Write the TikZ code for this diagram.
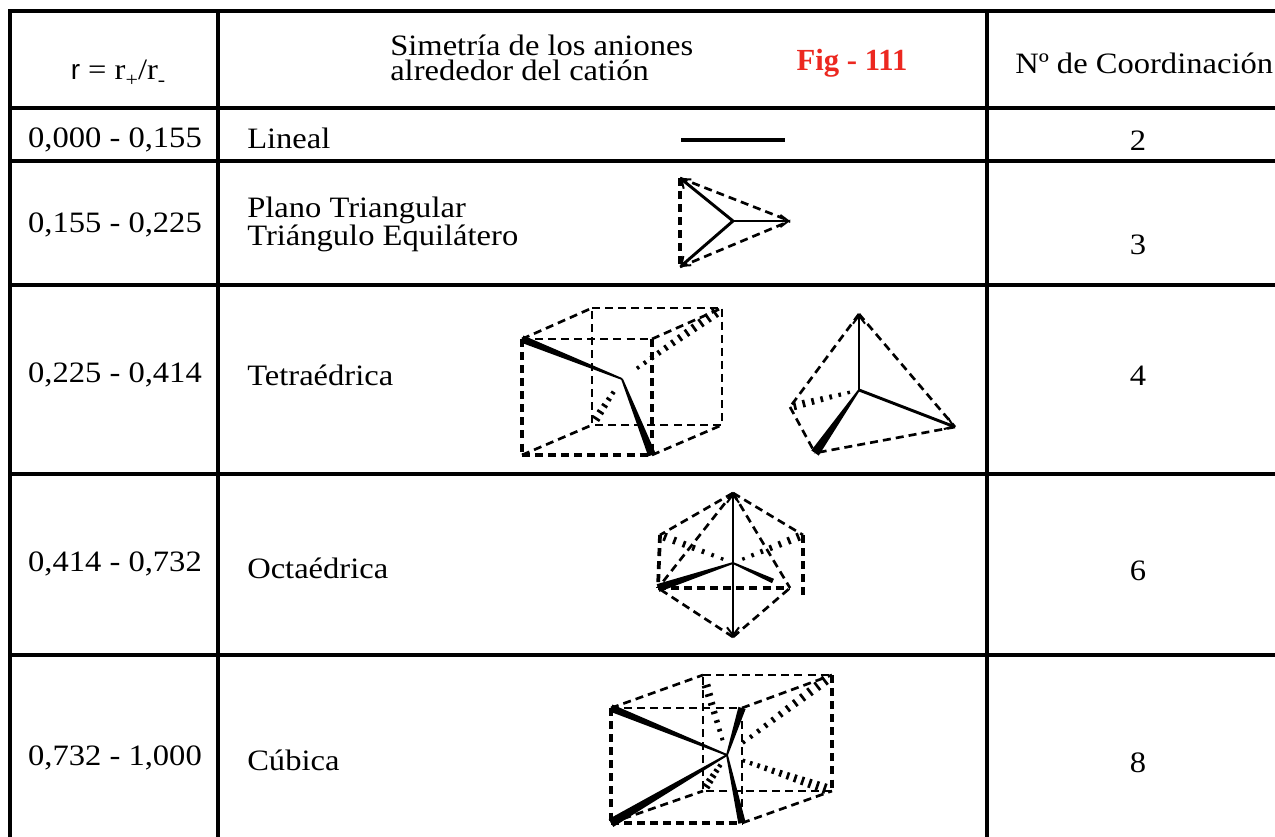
\documentclass[tikz,border=0pt]{standalone}
\usepackage{fontspec}
\setmainfont{Liberation Serif}[FakeStretch=1.1]
\newfontfamily\figfont{Liberation Serif Bold}
\newfontfamily\rsans{Liberation Sans}
\usetikzlibrary{calc,arrows.meta}
\definecolor{figred}{RGB}{236,40,32}
\newcommand\wedgebond[3]{\fill ($(#1)!0.7pt!90:(#2)$) -- ($(#2)!#3!-90:(#1)$) -- ($(#2)!#3!90:(#1)$) -- ($(#1)!0.7pt!-90:(#2)$) -- cycle;}
\newcommand\hashbond[4]{%
  \foreach \t in {#3}{%
    \pgfmathsetmacro\hw{0.9+#4*\t}%
    \draw[line width=2pt] ($(#1)!\t!(#2)!\hw pt!90:(#2)$) -- ($(#1)!\t!(#2)!\hw pt!-90:(#2)$);
  }}
\newcommand\mysub[1]{\raisebox{-0.45ex}{\fontsize{15}{15}\selectfont #1}}
\tikzset{
  grid/.style={line width=2.3pt,line cap=rect},
  txt/.style={inner sep=0pt,anchor=base,font=\fontsize{22.2}{24}\selectfont},
  txtw/.style={txt,anchor=base west},
  bond/.style={line width=2.2pt,-{Straight Barb[length=6pt,width=9pt,line width=1.5pt]}},
  edgeline/.style={line width=2pt,dash pattern=on 6pt off 3.8pt},
  edgethick/.style={line width=2.8pt,dash pattern=on 6pt off 3.8pt},
}
\begin{document}
\begin{tikzpicture}[x=0.75pt,y=-0.75pt]
\useasboundingbox[fill=white] (0,0) rectangle (1275,837);
% table grid
\draw[grid] (10,11) -- (1280,11);
\draw[grid] (10,108) -- (1280,108);
\draw[grid] (10,161) -- (1280,161);
\draw[grid] (10,285) -- (1280,285);
\draw[grid] (10,474) -- (1280,474);
\draw[grid] (10,655) -- (1280,655);
\draw[grid] (10,11) -- (10,845);
\draw[grid] (218,11) -- (218,845);
\draw[grid] (987,11) -- (987,845);
% header
\node[txt] (hr) at (118,80) {{\rsans\fontsize{21}{24}\selectfont r} = r\mysub{+}/r\mysub{-}};
\node[txtw] (hs1) at (390,56) {Simetría de los aniones};
\node[txtw] (hs2) at (390,81) {alrededor del catión};
\node[txt,text=figred,font=\fontsize{23}{26}\figfont] (hfig) at (852,71) {Fig - 111};
\node[txtw] (hn) at (1015,74) {Nº de Coordinación};
% column 1
\node[txt] (r1) at (115,148) {0,000 - 0,155};
\node[txt] (r2) at (115,233) {0,155 - 0,225};
\node[txt] (r3) at (115,383) {0,225 - 0,414};
\node[txt] (r4) at (115,572) {0,414 - 0,732};
\node[txt] (r5) at (115,765) {0,732 - 1,000};
% column 2
\node[txtw] (s1) at (247,149) {Lineal};
\node[txtw] (s2a) at (247,218) {Plano Triangular};
\node[txtw] (s2b) at (247,246) {Triángulo Equilátero};
\node[txtw] (s3) at (247,386) {Tetraédrica};
\node[txtw] (s4) at (247,579) {Octaédrica};
\node[txtw] (s5) at (247,770) {Cúbica};
% column 3
\node[txt] (n1) at (1138,151) {2};
\node[txt] (n2) at (1138,255) {3};
\node[txt] (n3) at (1138,386) {4};
\node[txt] (n4) at (1138,581) {6};
\node[txt] (n5) at (1138,772) {8};
% ---------- linear
\coordinate (la) at (681,140);
\coordinate (lb) at (785,140);
\draw[line width=2.4pt] (la) -- (lb);
% ---------- triangle
\coordinate (tA) at (680,178);
\coordinate (tB) at (680,267);
\coordinate (tR) at (790,221);
\coordinate (tC) at (733,221);
\draw[edgethick] (tA) -- (tB);
\draw[edgeline] (tA) -- (tR);
\draw[edgeline] (tB) -- (tR);
\draw[bond] (tC) -- (tA);
\draw[bond] (tC) -- (tB);
\draw[bond] (tC) -- (tR);
% ---------- tetrahedral (cube)
\coordinate (F1) at (522,339);
\coordinate (F2) at (652,339);
\coordinate (F3) at (652,455);
\coordinate (F4) at (522,455);
\coordinate (K1) at (592,308);
\coordinate (K2) at (722,308);
\coordinate (K3) at (722,425);
\coordinate (K4) at (592,425);
\coordinate (tc) at (622,379);
\draw[edgeline] (K1) -- (K2) -- (K3) -- (K4) -- cycle;
\draw[edgeline] (F1) -- (K1);
\draw[edgeline] (F2) -- (K2);
\draw[edgeline] (F3) -- (K3);
\draw[edgeline] (F4) -- (K4);
\draw[edgeline] (F1) -- (F2);
\draw[edgethick] (F2) -- (F3);
\draw[edgethick] (F1) -- (F4);
\draw[edgethick] (F4) -- (F3);
\wedgebond{tc}{F1}{2.8pt}
\wedgebond{tc}{F3}{3pt}
\hashbond{tc}{K2}{0.16,0.23,...,0.96}{3.2}
\hashbond{tc}{K4}{0.3,0.44,...,0.96}{2.6}
% ---------- tetrahedron
\coordinate (eA) at (859,314);
\coordinate (eO) at (859,390);
\coordinate (eR) at (955,427);
\coordinate (eL) at (815,453);
\coordinate (eK) at (790,407);
\draw[edgeline] (eA) -- (eK);
\draw[edgeline] (eA) -- (eR);
\draw[edgeline] (eR) -- (eL);
\draw[edgeline] (eK) -- (eL);
\draw[bond] (eO) -- (eA);
\draw[bond] (eO) -- (eR);
\wedgebond{eO}{eL}{3.4pt}
\hashbond{eO}{eK}{0.15,0.28,...,0.96}{2.4}
% ---------- octahedron
\coordinate (oT) at (733,493);
\coordinate (oB) at (733,637);
\coordinate (oC) at (733,563);
\coordinate (oFL) at (658,588);
\coordinate (oFR) at (790,588);
\coordinate (oBL) at (660,535);
\coordinate (oBR) at (803,535);
\coordinate (oX) at (803,598);
\coordinate (oW) at (773,581);
\draw[edgeline] (oT) -- (oBL);
\draw[edgeline] (oT) -- (oBR);
\draw[edgeline] (oT) -- (oFL);
\draw[edgeline] (oT) -- (oFR);
\draw[edgeline] (oB) -- (oFL);
\draw[edgeline] (oB) -- (oFR);
\draw[edgethick] (oFL) -- (oFR);
\draw[edgethick] (oBL) -- (oFL);
\draw[edgethick] (oBR) -- (oX);
\draw[bond] (oC) -- (oT);
\draw[bond] (oC) -- (oB);
\wedgebond{oC}{oFL}{3pt}
\wedgebond{oC}{oW}{1.8pt}
\hashbond{oC}{oBL}{0.15,0.28,...,0.96}{2.4}
\hashbond{oC}{oBR}{0.15,0.28,...,0.96}{2.4}
% ---------- cubic
\coordinate (c1) at (611,708);
\coordinate (c2) at (742,708);
\coordinate (c3) at (742,823);
\coordinate (c4) at (611,823);
\coordinate (d1) at (703,675);
\coordinate (d2) at (832,675);
\coordinate (d3) at (832,791);
\coordinate (d4) at (703,791);
\coordinate (cc) at (727,755);
\draw[edgeline] (d1) -- (d2);
\draw[edgethick] (d2) -- (d3);
\draw[edgeline] (d3) -- (d4) -- (d1);
\draw[edgeline] (c1) -- (d1);
\draw[edgeline] (c2) -- (d2);
\draw[edgeline] (c3) -- (d3);
\draw[edgeline] (c4) -- (d4);
\draw[edgeline] (c1) -- (c2);
\draw[edgeline] (c2) -- (c3);
\draw[edgethick] (c1) -- (c4);
\draw[edgethick] (c4) -- (c3);
\wedgebond{cc}{c1}{2.8pt}
\wedgebond{cc}{c4}{3.4pt}
\wedgebond{cc}{c2}{2.8pt}
\wedgebond{cc}{c3}{2.8pt}
\hashbond{cc}{d1}{0.2,0.31,...,0.96}{2.8}
\hashbond{cc}{d2}{0.16,0.23,...,0.96}{3.2}
\hashbond{cc}{d3}{0.16,0.23,...,0.96}{3.2}
\hashbond{cc}{d4}{0.3,0.44,...,0.96}{2.6}
\end{tikzpicture}
\end{document}
